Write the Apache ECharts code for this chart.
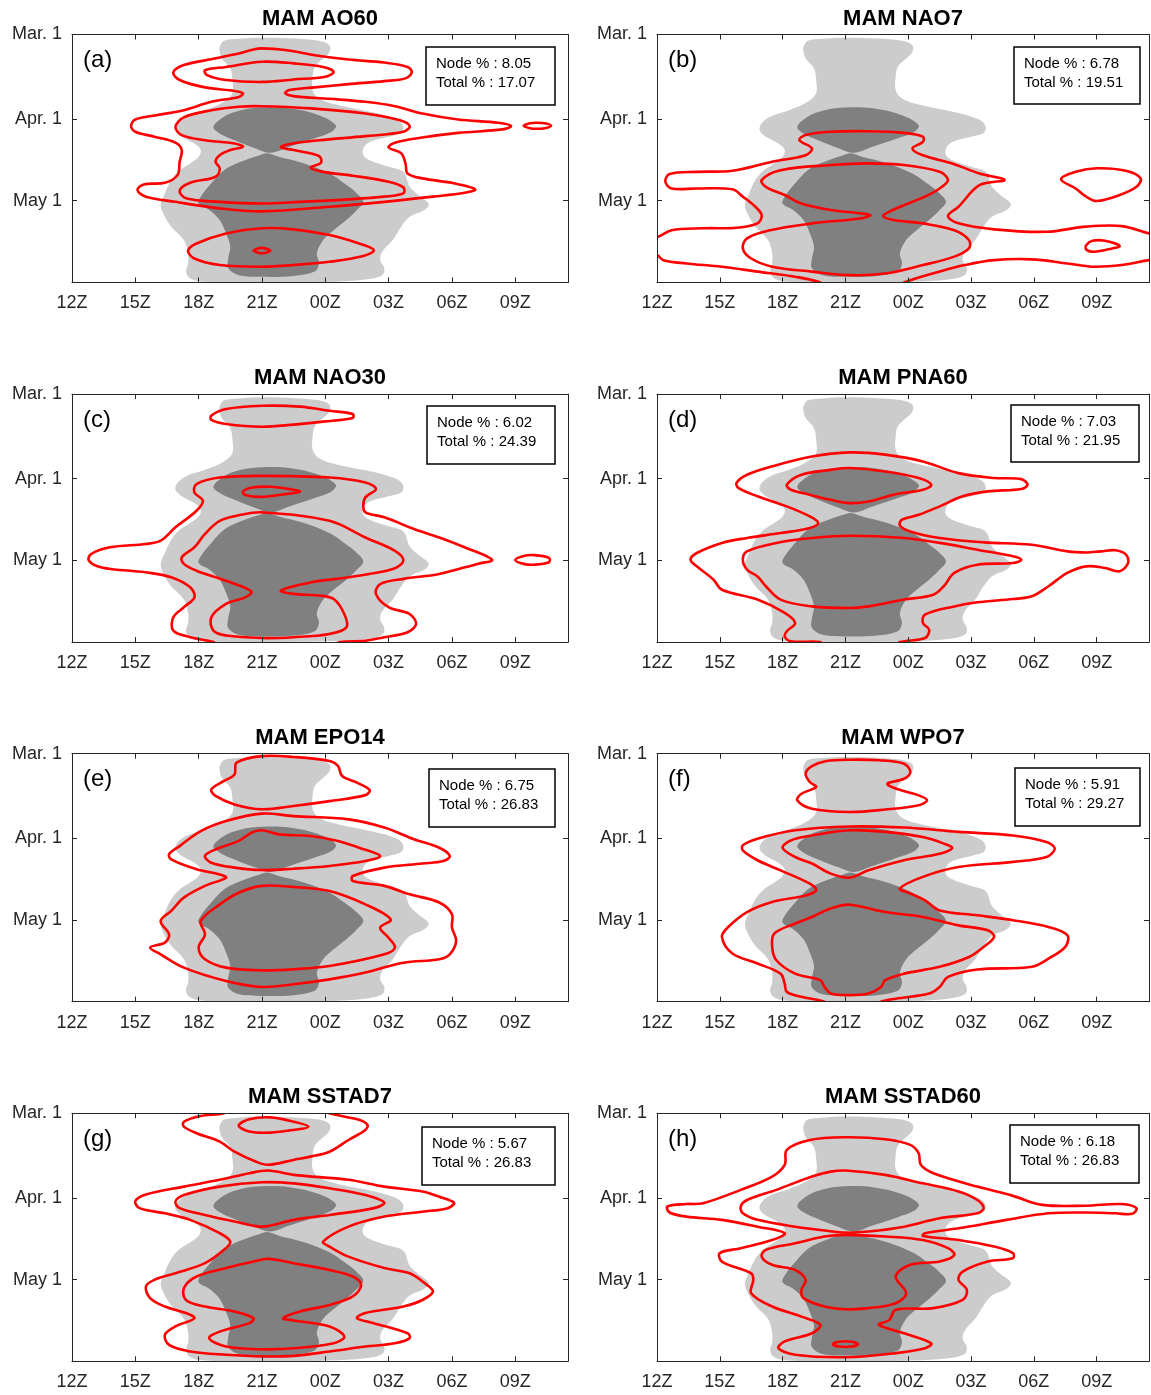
<!DOCTYPE html>
<html><head><meta charset="utf-8">
<script src="https://cdn.jsdelivr.net/npm/echarts@6/dist/echarts.min.js"></script>
<style>html,body{margin:0;padding:0;background:#fff}#c{width:1151px;height:1395px}</style>
</head><body><div id="c"></div><script>
// ---------- axes ----------
const xTickValues=[12,15,18,21,24,27,30,33];
const xTickLabels=['12Z','15Z','18Z','21Z','00Z','03Z','06Z','09Z'];
const yTickValues=[0,31,61];
const yTickLabels=['Mar. 1','Apr. 1','May 1'];
// ---------- panel texts ----------
const panelTitles=['MAM AO60','MAM NAO7','MAM NAO30','MAM PNA60','MAM EPO14','MAM WPO7','MAM SSTAD7','MAM SSTAD60'];
const panelLetters=['(a)','(b)','(c)','(d)','(e)','(f)','(g)','(h)'];
const nodePct=['8.05','6.78','6.02','7.03','6.75','5.91','5.67','6.18'];
const totalPct=['17.07','19.51','24.39','21.95','26.83','29.27','26.83','26.83'];
// ---------- climatology shading (hour, day since Mar 1) ----------
const climLight=[[19.0,4.5],[19.2,2.3],[19.9,1.6],[21.0,1.2],[22.5,1.5],[23.7,2.3],[24.2,3.9],[24.2,6.4],[23.9,8.8],[23.5,11.9],[23.4,15.5],[23.4,20.4],[23.7,23.5],[24.6,25.9],[25.8,27.8],[26.8,29.6],[27.5,31.7],[27.7,33.9],[27.6,36.1],[27.0,37.5],[26.1,39.4],[25.8,41.8],[25.8,44.3],[26.1,46.1],[27.0,48.5],[27.7,50.4],[28.0,55.9],[28.4,58.9],[28.9,62.2],[28.7,64.4],[28.0,66.9],[27.6,70.5],[27.2,75.4],[26.7,79.7],[26.6,82.8],[26.8,85.8],[26.7,88.3],[25.9,89.9],[24.2,90.7],[21.0,91],[18.3,90.7],[17.6,89.5],[17.4,87.0],[17.5,84.0],[17.5,80.3],[17.3,75.4],[16.7,70.5],[16.4,66.9],[16.2,62.6],[16.4,58.3],[16.7,53.4],[17.1,49.8],[17.6,47.3],[18.0,44.9],[18.1,42.4],[17.8,40.0],[17.2,37.5],[16.9,35.1],[17.0,32.6],[17.4,30.2],[18.3,27.8],[19.2,24.7],[19.6,21.6],[19.6,16.7],[19.5,12.5],[19.1,8.8],[19.0,6.4]];
const climDarkUpper=[[18.7,33.9],[19.2,30.2],[20.0,27.8],[21.0,26.8],[22.3,27.1],[23.7,29.6],[24.5,33.3],[24.3,35.7],[23.5,38.1],[22.3,41.2],[21.4,43.4],[20.7,41.8],[19.7,38.8],[19.0,36.3]];
const climDarkLower=[[21.25,43.6],[21.8,44.9],[23.0,47.3],[24.2,51.0],[24.9,54.6],[25.5,58.3],[25.8,61.4],[25.5,64.4],[25.0,68.1],[24.4,71.8],[23.9,75.4],[23.6,80.3],[23.7,84.0],[23.5,87.0],[22.5,88.6],[21.0,88.9],[19.9,88.3],[19.4,85.8],[19.4,82.2],[19.5,77.9],[19.3,73.0],[19.0,68.1],[18.5,64.4],[18.0,62.0],[18.1,59.5],[18.6,54.6],[19.2,49.8],[20.0,46.7],[20.9,44.3]];
// ---------- red contours, per panel ----------
const redClosedA=[
 [[21.0,5.1],[22.1,5.7],[23.5,7.6],[25.1,9.2],[26.8,10.3],[27.9,11.9],[28.1,13.9],[27.8,16.1],[26.8,17.1],[25.1,18.2],[23.5,19.4],[22.3,20.4],[22.1,21.6],[22.5,22.6],[24.2,23.6],[25.9,24.7],[27.3,26.3],[28.6,29.0],[30.3,31.2],[32.2,32.4],[32.8,33.6],[32.4,34.8],[30.3,36.1],[28.6,37.8],[27.3,39.7],[27.0,41.4],[27.6,43.6],[27.8,47.3],[27.9,51.0],[28.6,52.8],[30.1,54.6],[31.1,56.8],[30.6,58.1],[29.1,59.5],[26.8,61.4],[24.2,63.2],[21.0,64.9],[19.0,63.8],[16.9,61.4],[15.5,59.5],[15.1,57.1],[15.4,55.0],[16.4,54.4],[17.0,51.6],[17.1,46.7],[17.2,42.4],[16.9,39.7],[15.9,37.5],[15.0,35.7],[14.8,33.6],[15.0,31.2],[16.0,29.6],[17.3,27.8],[18.6,24.7],[19.9,22.9],[20.1,21.6],[19.7,20.7],[18.3,19.4],[17.1,16.7],[16.8,13.9],[17.3,11.2],[18.5,9.2],[19.9,7.0],[20.6,5.5]],
 [[21.0,10.0],[22.5,10.6],[23.9,11.9],[24.4,13.7],[24.0,15.5],[22.5,16.5],[21.0,17.4],[19.3,16.7],[18.4,14.9],[18.3,13.1],[19.3,11.9]],
 [[21.0,26.3],[23.3,27.1],[25.9,29.0],[27.5,31.4],[28.0,33.6],[27.7,35.7],[25.9,37.3],[23.7,38.8],[22.3,40.2],[21.9,41.4],[22.5,42.4],[23.7,44.6],[23.8,47.1],[23.3,48.9],[23.9,50.4],[25.3,51.8],[27.0,54.0],[27.7,56.1],[27.7,58.3],[26.8,59.5],[25.1,60.5],[22.8,61.4],[21.0,62.0],[19.0,61.4],[17.4,60.1],[17.1,57.3],[17.6,54.4],[18.8,52.2],[19.0,49.1],[18.8,46.7],[19.0,44.3],[19.5,42.4],[20.1,41.2],[19.7,40.0],[18.3,38.8],[17.2,36.9],[16.9,33.9],[17.3,30.4],[18.6,27.8],[19.9,26.5]],
 [[33.4,33.5],[33.7,32.6],[34.0,32.4],[34.4,32.6],[34.7,33.5],[34.4,34.4],[34.0,34.6],[33.7,34.4]],
 [[21.0,71.1],[22.5,71.5],[24.2,73.6],[25.6,76.7],[26.3,79.1],[25.8,81.3],[24.2,83.4],[22.5,84.6],[21.0,85.2],[19.0,84.6],[17.8,82.2],[17.5,79.3],[17.9,76.7],[19.3,73.0]],
 [[20.6,79.3],[21.0,78.3],[21.4,79.3],[21.0,80.3]]
];
const redOpenA=[];
const redClosedB=[
 [[17.0,53.4],[17.9,49.8],[20.3,47.9],[22.1,47.3],[23.8,47.9],[25.5,50.4],[25.9,53.4],[25.5,56.5],[24.8,59.5],[23.8,62.6],[23.1,65.0],[22.8,66.6],[23.3,68.1],[24.7,69.3],[26.2,71.8],[26.9,75.4],[26.9,78.5],[26.2,81.5],[24.7,84.6],[22.9,87.7],[21.2,88.3],[19.4,87.0],[17.5,85.2],[16.5,82.2],[16.1,78.5],[16.3,74.8],[17.4,71.8],[19.4,69.3],[21.7,67.5],[22.2,66.3],[21.7,65.6],[20.3,64.4],[18.9,62.0],[18.1,58.9],[17.2,55.9]],
 [[31.3,53.1],[32.0,50.4],[33.0,49.1],[34.4,50.0],[35.1,52.8],[34.9,55.9],[34.1,58.9],[33.0,61.1],[32.5,59.5],[32.0,56.5]],
 [[32.5,77.3],[32.8,75.7],[33.4,75.7],[34.1,77.6],[33.5,78.9],[32.8,79.7],[32.5,78.9]]
];
const redOpenB=[
 [[11.5,74.6],[12.0,74.4],[12.7,71.8],[14.2,71.1],[15.8,70.9],[16.8,69.3],[17.0,66.3],[16.7,63.2],[16.1,59.5],[15.6,56.8],[13.9,56.5],[12.7,56.5],[12.4,54.0],[12.6,51.2],[13.9,50.4],[15.6,50.0],[17.5,46.7],[19.1,44.3],[19.4,41.8],[18.8,38.8],[19.1,36.9],[20.3,35.7],[22.1,35.5],[23.8,36.1],[24.7,37.5],[24.7,39.4],[24.2,41.8],[24.7,44.3],[26.1,47.3],[27.4,51.0],[28.6,53.4],[27.4,55.3],[26.4,63.2],[25.9,66.6],[26.4,69.3],[28.1,71.5],[30.6,72.4],[32.5,70.5],[34.2,70.3],[35.5,73.0],[36.0,73.6]],
 [[36.0,82.4],[35.5,82.8],[34.2,84.6],[32.8,85.2],[31.6,84.0],[29.9,82.5],[28.1,82.8],[26.7,84.6],[25.5,87.0],[23.8,91],[23.6,92.5]],
 [[19.9,92.5],[19.8,91],[18.6,88.9],[16.8,87.0],[15.1,85.2],[13.4,84.0],[12.3,82.8],[12.0,80.9],[11.5,80.4]]
];
const redClosedC=[
 [[18.6,7.9],[19.3,5.5],[21.0,4.3],[22.8,4.6],[24.2,6.1],[25.3,7.3],[25.3,8.8],[23.9,10.1],[22.5,11.2],[21.0,12.0],[19.3,11.0],[18.6,9.5]],
 [[21.0,43.4],[24.2,46.5],[25.9,52.6],[27.3,57.5],[27.7,61.1],[27.2,64.2],[25.1,67.2],[23.3,69.1],[21.9,72.1],[22.5,73.3],[23.7,73.9],[24.4,75.2],[24.9,80.7],[25.0,85.6],[24.2,88.0],[22.5,89.2],[21.0,89.5],[19.3,88.6],[18.7,86.8],[18.6,81.9],[19.3,77.0],[20.2,74.6],[20.5,72.4],[19.3,68.5],[17.9,64.8],[17.3,62.3],[17.2,59.9],[17.8,56.2],[18.3,51.3],[19.0,46.5],[20.0,44.3]],
 [[20.1,35.7],[20.6,34.2],[21.4,34.0],[22.3,34.8],[22.8,35.8],[22.1,36.7],[21.0,37.7],[20.2,37.0]],
 [[33.0,60.9],[33.4,59.4],[33.9,59.1],[34.6,60.1],[34.6,61.7],[33.9,62.6],[33.4,62.3]]
];
const redOpenC=[
 [[18.9,92.5],[18.7,91],[17.6,89.2],[16.8,86.8],[16.8,81.9],[17.3,78.2],[17.8,74.6],[17.6,70.9],[16.7,67.2],[15.5,65.4],[13.4,63.6],[12.8,61.1],[12.9,58.7],[13.8,56.2],[15.5,55.0],[16.2,53.8],[16.9,48.9],[17.9,42.8],[18.2,39.1],[17.8,36.1],[17.9,33.0],[19.0,30.6],[21.0,30.0],[24.2,30.6],[25.9,32.4],[26.4,34.8],[25.9,37.9],[25.8,40.9],[25.9,43.4],[26.8,45.2],[28.2,49.5],[29.4,52.6],[30.6,56.2],[31.9,60.8],[31.2,62.3],[29.4,66.0],[27.7,67.8],[26.6,69.7],[26.4,73.3],[27.0,78.2],[28.0,80.7],[28.3,84.4],[27.9,87.4],[26.8,89.2],[25.9,90.5],[24.7,91],[24.3,92.5]]
];
const redClosedD=[
 [[18.2,33.3],[18.9,29.6],[20.3,27.8],[21.2,27.1],[22.9,28.4],[24.5,30.8],[25.1,33.3],[24.7,35.1],[23.3,36.9],[22.1,39.4],[21.2,40.0],[20.3,38.8],[19.3,36.9],[18.4,35.1]],
 [[21.2,52.0],[23.8,52.8],[25.5,54.6],[27.3,57.1],[29.0,59.5],[29.4,60.8],[29.0,62.0],[27.3,62.6],[26.2,65.6],[25.7,70.5],[25.2,73.6],[23.8,75.4],[22.1,77.9],[21.2,78.5],[19.4,77.9],[17.9,75.4],[17.2,70.5],[16.8,66.9],[16.3,64.4],[16.1,60.8],[16.3,57.7],[17.7,54.6],[19.4,52.8]]
];
const redOpenD=[
 [[19.9,92.5],[19.8,91],[18.4,90.7],[18.1,88.9],[18.2,87.0],[18.6,84.0],[18.1,80.3],[16.8,75.4],[15.1,71.8],[14.7,68.1],[13.9,63.2],[13.6,60.8],[13.9,58.3],[15.1,54.6],[16.3,52.8],[17.9,51.0],[19.3,49.1],[19.7,47.3],[19.3,44.9],[18.2,41.2],[16.8,37.5],[15.9,34.5],[15.8,32.6],[16.3,29.6],[17.5,26.5],[19.4,22.9],[21.2,21.4],[22.9,22.2],[24.7,24.7],[26.4,29.0],[28.1,30.8],[29.4,31.2],[29.7,33.3],[29.4,34.8],[27.8,35.7],[26.6,37.5],[25.5,41.2],[24.5,44.3],[23.7,46.1],[23.6,48.2],[24.1,50.4],[25.5,52.8],[27.6,54.4],[29.9,55.3],[31.6,57.7],[32.5,58.1],[33.2,57.7],[33.9,57.3],[34.4,58.9],[34.5,62.0],[34.1,65.0],[33.4,63.8],[32.5,63.2],[31.6,65.6],[30.7,70.5],[29.9,74.2],[29.0,75.2],[27.3,76.4],[26.2,77.9],[24.8,80.9],[24.7,84.0],[25.0,86.4],[24.8,89.5],[23.6,91],[23.4,92.5]]
];
const redClosedE=[
 [[21.0,0.9],[22.5,1.2],[24.2,2.7],[24.6,4.5],[24.8,8.2],[25.5,10.6],[26.1,13.3],[25.9,15.2],[24.2,17.4],[22.5,19.2],[21.0,20.4],[19.7,18.6],[18.8,15.5],[18.6,13.1],[19.2,10.0],[19.7,7.6],[19.8,3.3]],
 [[21.0,22.0],[22.5,22.9],[25.1,24.1],[26.8,27.1],[28.2,31.4],[29.4,34.5],[29.9,37.5],[29.6,39.4],[28.6,40.3],[26.8,41.8],[25.3,44.9],[25.3,46.7],[26.8,48.5],[28.0,51.6],[29.4,54.6],[30.0,58.9],[30.0,63.8],[30.2,68.7],[29.9,73.6],[29.4,75.4],[27.7,76.7],[25.9,80.3],[24.2,82.8],[22.5,84.6],[21.0,85.6],[19.3,83.4],[17.3,78.5],[16.2,73.6],[15.7,71.1],[16.4,69.3],[16.6,66.3],[16.2,61.4],[16.7,57.7],[17.3,52.8],[18.3,48.5],[19.3,45.5],[19.0,44.3],[17.9,42.4],[16.7,38.8],[16.6,36.9],[17.1,33.9],[18.1,28.4],[19.3,24.7]],
 [[21.0,28.1],[21.8,29.6],[23.3,30.2],[24.6,32.0],[25.6,34.5],[26.6,37.5],[25.9,39.4],[24.2,41.2],[22.5,42.2],[21.0,42.7],[19.7,41.8],[18.6,40.0],[18.3,37.5],[18.8,35.1],[19.9,32.0],[20.5,29.0]],
 [[21.0,48.5],[22.5,48.9],[24.2,50.4],[25.9,55.3],[27.1,60.8],[26.6,63.8],[27.0,67.5],[27.3,71.1],[26.8,73.6],[24.2,77.9],[22.5,79.1],[21.0,79.5],[19.3,78.5],[18.3,75.4],[18.0,71.1],[18.3,66.3],[18.1,61.4],[19.0,55.3],[19.9,51.0]]
];
const redOpenE=[];
const redClosedF=[
 [[21.2,2.2],[22.6,2.4],[23.8,3.7],[24.1,6.7],[23.8,9.2],[23.0,11.0],[23.4,12.8],[24.5,15.3],[24.9,17.1],[24.5,18.9],[22.9,20.5],[21.2,21.4],[19.4,20.2],[18.7,17.1],[18.9,14.7],[19.6,12.2],[19.3,10.4],[19.1,7.3],[19.4,4.6],[20.1,2.7]],
 [[21.2,28.1],[22.9,28.7],[24.7,30.6],[25.7,33.0],[26.1,34.6],[25.5,36.7],[23.8,39.1],[22.1,42.8],[21.2,45.5],[20.3,44.0],[19.4,40.3],[18.6,37.9],[18.0,34.5],[18.4,31.8],[19.4,30.0]],
 [[21.2,55.4],[22.9,58.1],[24.7,59.9],[26.4,63.0],[27.8,64.8],[28.1,67.2],[27.6,70.9],[26.9,74.6],[25.5,78.2],[23.8,80.7],[22.9,83.1],[22.7,85.6],[22.1,88.0],[21.2,88.6],[20.3,88.0],[20.0,85.6],[19.8,83.1],[18.6,80.7],[17.7,75.8],[17.5,70.9],[17.6,66.0],[18.6,62.3],[19.4,59.9],[20.3,56.8]]
];
const redOpenF=[
 [[20.1,92.5],[20.0,91],[18.9,89.2],[18.2,87.4],[18.1,84.4],[17.9,80.7],[16.8,77.0],[15.6,73.3],[15.1,67.2],[15.4,63.6],[16.3,58.1],[17.5,54.4],[19.1,52.0],[19.6,50.1],[19.3,47.7],[17.9,42.8],[16.8,39.1],[16.1,35.5],[16.1,33.6],[16.8,31.2],[18.6,28.1],[21.2,26.7],[23.8,27.1],[26.4,28.7],[29.0,30.0],[30.6,32.4],[31.0,34.8],[30.6,37.9],[29.0,39.7],[26.4,41.6],[24.7,45.2],[23.6,49.5],[24.1,51.3],[24.8,53.8],[25.5,57.5],[27.3,59.3],[29.0,61.1],[30.7,63.6],[31.6,66.6],[31.5,70.9],[30.7,75.2],[29.9,78.2],[27.3,79.2],[25.9,81.9],[25.5,85.6],[25.0,88.0],[23.4,89.9],[22.7,91],[22.5,92.5]]
];
const redClosedG=[
 [[19.9,4.5],[20.4,2.2],[21.4,1.5],[22.5,3.1],[23.2,4.9],[22.5,6.1],[21.4,7.1],[20.4,6.7]],
 [[21.3,21.0],[22.5,22.6],[25.1,24.4],[26.8,26.9],[28.6,28.7],[29.4,30.6],[30.1,32.8],[29.8,34.8],[28.6,36.1],[26.8,37.9],[25.1,41.6],[23.9,47.1],[24.2,48.9],[25.1,52.6],[26.8,56.8],[28.0,58.7],[28.7,62.3],[29.1,65.4],[28.6,68.5],[27.7,70.9],[25.9,73.3],[25.5,75.2],[26.3,77.0],[27.9,80.7],[28.0,82.5],[27.3,84.4],[25.9,85.6],[24.2,87.4],[22.5,89.0],[21.0,89.2],[19.3,88.6],[17.6,87.4],[16.6,85.0],[16.4,81.3],[16.9,78.2],[17.8,75.2],[17.4,73.3],[16.4,70.9],[15.7,67.8],[15.5,63.6],[15.9,61.1],[16.9,58.7],[18.3,55.0],[19.2,50.1],[19.5,47.1],[19.0,44.0],[17.6,39.1],[16.4,36.7],[15.2,34.8],[15.0,32.3],[15.5,29.8],[17.3,26.9],[19.0,24.4],[20.4,22.0]],
 [[21.0,25.3],[22.5,25.7],[24.2,27.5],[25.9,30.0],[26.8,32.8],[26.3,34.8],[24.2,37.3],[22.5,39.1],[21.0,41.6],[19.7,39.7],[18.3,37.3],[17.1,34.8],[16.9,32.4],[17.3,30.0],[19.0,26.9]],
 [[21.3,53.4],[22.5,55.0],[24.2,57.5],[25.3,59.9],[25.7,63.0],[25.3,67.2],[24.2,70.3],[22.8,72.7],[22.0,75.2],[22.5,76.0],[24.2,78.2],[24.9,81.9],[24.4,84.4],[22.5,86.2],[21.0,86.6],[19.3,85.6],[18.5,82.5],[19.0,80.1],[20.4,77.0],[20.6,75.2],[19.7,72.7],[18.3,70.9],[17.4,68.5],[17.3,64.2],[17.9,59.9],[19.3,56.8],[20.6,54.4]]
];
const redOpenG=[
 [[19.4,-1.5],[19.2,0],[18.1,1.0],[17.3,3.1],[17.3,4.9],[17.9,7.3],[19.0,10.4],[19.7,14.1],[20.7,17.7],[21.3,18.9],[22.5,17.1],[23.3,15.9],[24.2,14.1],[25.1,9.8],[25.9,6.1],[26.0,4.3],[25.6,2.4],[24.2,0],[23.9,-1.5]]
];
const redClosedH=[
 [[21.0,8.8],[22.9,9.5],[24.1,11.6],[24.5,14.7],[24.6,18.9],[25.2,22.0],[27.3,26.9],[29.0,30.3],[30.4,33.6],[32.5,33.9],[34.2,33.3],[34.9,34.8],[34.7,36.9],[33.9,36.7],[32.5,36.4],[30.7,36.7],[28.7,39.1],[26.4,42.2],[24.8,44.0],[24.7,45.0],[26.4,46.5],[28.1,48.9],[29.0,51.3],[29.0,53.2],[27.8,54.4],[26.6,58.1],[26.4,61.1],[26.8,64.8],[26.6,68.5],[25.2,71.5],[23.4,72.1],[23.1,75.8],[22.6,77.6],[23.8,80.7],[25.1,84.4],[24.8,86.2],[23.4,88.0],[21.0,89.5],[18.6,88.6],[17.8,86.2],[18.1,83.7],[19.4,80.7],[19.8,77.6],[18.9,74.6],[17.5,70.9],[16.5,66.0],[16.6,61.1],[16.5,58.7],[15.1,54.4],[15.0,51.3],[16.0,49.5],[17.5,46.5],[18.1,44.0],[16.8,41.6],[15.1,39.1],[13.4,37.9],[12.6,36.4],[12.5,34.2],[13.4,33.3],[14.2,33.0],[16.0,28.1],[17.5,23.2],[18.1,18.9],[18.2,13.4],[19.3,9.8]],
 [[21.0,21.0],[22.9,22.6],[24.7,25.7],[26.4,28.7],[27.3,31.8],[27.6,34.8],[27.3,36.7],[25.5,38.5],[23.8,41.6],[22.1,43.4],[21.0,43.8],[20.0,43.0],[18.6,41.6],[16.8,39.1],[16.1,36.7],[16.0,34.2],[16.3,31.8],[17.7,28.1],[19.4,23.2],[20.3,21.4]],
 [[21.0,44.6],[22.9,45.2],[24.7,46.5],[25.9,49.5],[26.2,52.0],[25.5,54.4],[24.1,55.6],[23.4,59.9],[23.9,66.0],[23.4,69.7],[22.1,71.5],[21.0,71.9],[20.0,70.9],[19.0,67.8],[18.9,64.8],[19.1,61.1],[18.6,57.5],[17.5,55.6],[17.0,52.6],[17.2,50.1],[18.6,47.7],[20.0,45.2]],
 [[20.4,84.7],[20.7,83.8],[21.3,83.8],[21.6,84.7],[21.3,85.6],[20.7,85.6]]
];
const redOpenH=[];

const redClosed=[redClosedA,redClosedB,redClosedC,redClosedD,redClosedE,redClosedF,redClosedG,redClosedH];
const redOpen=[redOpenA,redOpenB,redOpenC,redOpenD,redOpenE,redOpenF,redOpenG,redOpenH];

// ---------- layout ----------
const FONT='"Liberation Sans", Arial, Helvetica, sans-serif';
const grids=[];
for(let r=0;r<4;r++)for(let c=0;c<2;c++)grids.push({left:c?657:72,top:34.5+359.6*r,width:c?492:496,height:248,outerBoundsMode:'none',containLabel:false});
const boxRects=[[426,47,129,58],[1014,47,126,57],[427,406,128,58],[1011,405,128,57],[429,769,126,58],[1015,768,125,58],[422,1127,133,58],[1010,1125,129,58]];

const AX='#262626';
function xLabel(v){const i=xTickValues.indexOf(v);return i<0?'':xTickLabels[i];}
function yLabel(v){const i=yTickValues.indexOf(v);return i<0?'':yTickLabels[i];}
const xAxes=[],yAxes=[];
grids.forEach((g,i)=>{
  [false,true].forEach(top=>{
    xAxes.push({type:'value',gridIndex:i,position:top?'top':'bottom',min:12,max:35.5,z:5,
      axisLine:{show:true,onZero:false,lineStyle:{color:AX,width:1}},
      axisTick:{show:true,inside:true,length:5,customValues:xTickValues,lineStyle:{color:AX}},
      axisLabel:{show:!top,customValues:xTickValues,formatter:xLabel,margin:12,fontSize:18,color:AX,fontFamily:FONT},
      splitLine:{show:false}});
    yAxes.push({type:'value',gridIndex:i,position:top?'right':'left',min:0,max:91,inverse:true,z:5,
      axisLine:{show:true,onZero:false,lineStyle:{color:AX,width:1}},
      axisTick:{show:true,inside:true,length:5,customValues:yTickValues,lineStyle:{color:AX}},
      axisLabel:{show:!top,customValues:yTickValues,formatter:yLabel,margin:10,fontSize:18,color:AX,fontFamily:FONT},
      splitLine:{show:false}});
  });
});

function shapeSeries(g,shapes,closed,style,z){
  return {type:'custom',xAxisIndex:2*g,yAxisIndex:2*g,z:z,silent:true,clip:true,animation:false,
    data:shapes.map((s,i)=>[s[0][0],s[0][1],i]),
    renderItem:function(params,api){
      const pts=shapes[params.dataIndex].map(p=>api.coord(p));
      return {type:closed?'polygon':'polyline',shape:{points:pts,smooth:0.35},style:Object.assign({},style)};
    }};
}
const series=[];
grids.forEach((g,i)=>{
  series.push(shapeSeries(i,[climLight],true,{fill:'#cccccc',stroke:null,lineWidth:0},1));
  series.push(shapeSeries(i,[climDarkUpper,climDarkLower],true,{fill:'#808080',stroke:null,lineWidth:0},1.5));
  series.push(shapeSeries(i,redClosed[i],true,{fill:'none',stroke:'#ff0000',lineWidth:2.6},3));
  if(redOpen[i].length)series.push(shapeSeries(i,redOpen[i],false,{fill:'none',stroke:'#ff0000',lineWidth:2.6},3));
});

const graphics=[];
grids.forEach((g,i)=>{
  graphics.push({type:'text',z:100,x:g.left+g.width/2,y:g.top-16,style:{text:panelTitles[i],font:'bold 22px '+FONT,fill:'#000',textAlign:'center',align:'center',textVerticalAlign:'middle',verticalAlign:'middle'}});
  graphics.push({type:'text',z:100,x:g.left+11,y:g.top+26,style:{text:panelLetters[i],font:'24px '+FONT,fill:'#000',textAlign:'left',align:'left',textVerticalAlign:'middle',verticalAlign:'middle'}});
  const b=boxRects[i];
  graphics.push({type:'rect',z:100,shape:{x:b[0],y:b[1],width:b[2],height:b[3]},style:{fill:'#fff',stroke:'#000',lineWidth:1.5}});
  graphics.push({type:'text',z:101,x:b[0]+10,y:b[1]+17,style:{text:'Node % : '+nodePct[i],font:'15px '+FONT,fill:'#000',textAlign:'left',align:'left',textVerticalAlign:'middle',verticalAlign:'middle'}});
  graphics.push({type:'text',z:101,x:b[0]+10,y:b[1]+36,style:{text:'Total % : '+totalPct[i],font:'15px '+FONT,fill:'#000',textAlign:'left',align:'left',textVerticalAlign:'middle',verticalAlign:'middle'}});
});

const chart=echarts.init(document.getElementById('c'),null,{renderer:'canvas',width:1151,height:1395});
chart.setOption({animation:false,backgroundColor:'#fff',grid:grids,xAxis:xAxes,yAxis:yAxes,series:series,graphic:{elements:graphics}});
</script></body></html>
